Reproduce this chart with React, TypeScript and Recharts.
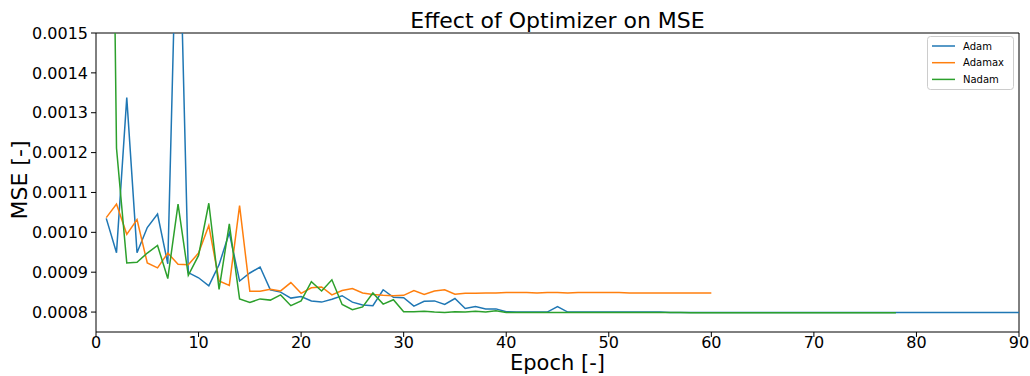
import { Line, LineChart, ReferenceLine, XAxis, YAxis } from "recharts"

// validation MSE per epoch, epochs start at 1
const adam = [
  0.001035, 0.000949, 0.001338, 0.000949, 0.001012, 0.001046, 0.000921, 0.00194, 0.000899, 0.000886,
  0.000866, 0.000919, 0.000999, 0.000878, 0.000898, 0.000913, 0.000856, 0.00085, 0.000835, 0.000839,
  0.000828, 0.000825, 0.000832, 0.000841, 0.000825, 0.000818, 0.000816, 0.000856, 0.000837, 0.000836,
  0.000815, 0.000827, 0.000828, 0.000819, 0.000834, 0.000809, 0.000814, 0.000808, 0.000808, 0.000801,
  0.0008, 0.0008, 0.0008, 0.0008, 0.000814, 0.0008, 0.0008, 0.0008, 0.0008, 0.0008,
  0.0008, 0.0008, 0.0008, 0.0008, 0.0008, 0.000799, 0.000799, 0.000799, 0.000799, 0.000799,
  0.000799, 0.000799, 0.000799, 0.000799, 0.000799, 0.000799, 0.000799, 0.000799, 0.000799, 0.000799,
  0.000799, 0.000799, 0.000799, 0.000799, 0.000799, 0.000799, 0.000799, 0.000799, 0.000799, 0.000799,
  0.000799, 0.000799, 0.000799, 0.000799, 0.000799, 0.000799, 0.000799, 0.000799, 0.000799, 0.000799,
]

const adamax = [
  0.001037, 0.001071, 0.000995, 0.001032, 0.000923, 0.000911, 0.000948, 0.00092, 0.000919, 0.000948,
  0.001017, 0.000878, 0.000867, 0.001067, 0.000852, 0.000852, 0.000857, 0.000853, 0.000874, 0.000847,
  0.000861, 0.000863, 0.000843, 0.000854, 0.000859, 0.000848, 0.000844, 0.000842, 0.000841, 0.000842,
  0.000854, 0.000844, 0.000853, 0.000856, 0.000845, 0.000847, 0.000847, 0.000848, 0.000848, 0.000849,
  0.000849, 0.000849, 0.000848, 0.000849, 0.000849, 0.000848, 0.000849, 0.000849, 0.000849, 0.000849,
  0.000849, 0.000848, 0.000848, 0.000848, 0.000848, 0.000848, 0.000848, 0.000848, 0.000848, 0.000848,
]

const nadam = [
  0.0033, 0.001211, 0.000923, 0.000925, 0.000948, 0.000967, 0.000884, 0.001071, 0.000892, 0.000942,
  0.001073, 0.000857, 0.001021, 0.000833, 0.000824, 0.000833, 0.00083, 0.000843, 0.000816, 0.000828,
  0.000876, 0.000853, 0.000881, 0.000819, 0.000806, 0.000813, 0.000848, 0.00082, 0.000831, 0.000801,
  0.000801, 0.000802, 0.0008, 0.000799, 0.000801, 0.0008, 0.000802, 0.0008, 0.000803, 0.000799,
  0.000799, 0.000799, 0.000799, 0.000799, 0.000799, 0.000799, 0.000799, 0.000799, 0.000799, 0.000799,
  0.000799, 0.000799, 0.000799, 0.000799, 0.000799, 0.000799, 0.000799, 0.000798, 0.000798, 0.000798,
  0.000798, 0.000798, 0.000798, 0.000798, 0.000798, 0.000798, 0.000798, 0.000798, 0.000798, 0.000798,
  0.000798, 0.000798, 0.000798, 0.000798, 0.000798, 0.000798, 0.000798, 0.000798,
]

const xTicks = [0, 10, 20, 30, 40, 50, 60, 70, 80, 90]
const yTicks = [0.0008, 0.0009, 0.001, 0.0011, 0.0012, 0.0013, 0.0014, 0.0015]

const series = [
  { name: "Adam", values: adam, color: "#1f77b4" },
  { name: "Adamax", values: adamax, color: "#ff7f0e" },
  { name: "Nadam", values: nadam, color: "#2ca02c" },
]

const toPoints = (values: number[]) => values.map((mse, i) => ({ epoch: i + 1, mse }))

const font = "'DejaVu Sans', sans-serif"
const tickStyle = { fill: "#000", fontSize: 16, fontFamily: font }

export default function App() {
  return (
    <div style={{ position: "absolute", left: 0, top: 0, width: 1030, height: 376, background: "#fff" }}>
      <LineChart width={1030} height={376} margin={{ top: 33, right: 11, bottom: 0, left: 0 }}>
        <XAxis
          type="number"
          dataKey="epoch"
          domain={[0, 90]}
          ticks={xTicks}
          height={44}
          stroke="#000"
          tickSize={5}
          tickMargin={0}
          tick={tickStyle}
          allowDataOverflow
        />
        <YAxis
          type="number"
          domain={[0.00075, 0.0015]}
          ticks={yTicks}
          width={96}
          stroke="#000"
          tickSize={5}
          tickMargin={3}
          tick={tickStyle}
          tickFormatter={(v: number) => v.toFixed(4)}
          allowDataOverflow
        />
        <ReferenceLine x={90} stroke="#000" />
        <ReferenceLine y={0.0015} stroke="#000" />
        {series.map((s) => (
          <Line
            key={s.name}
            data={toPoints(s.values)}
            dataKey="mse"
            name={s.name}
            type="linear"
            stroke={s.color}
            strokeWidth={1.5}
            dot={false}
            isAnimationActive={false}
          />
        ))}
      </LineChart>

      <svg
        width={1030}
        height={376}
        style={{ position: "absolute", left: 0, top: 0, pointerEvents: "none" }}
        fontFamily={font}
      >
        <text x={557.5} y={28} textAnchor="middle" fontSize={22} fill="#000">
          Effect of Optimizer on MSE
        </text>
        <text x={557.5} y={370} textAnchor="middle" fontSize={21} fill="#000">
          Epoch [-]
        </text>
        <text x={27} y={180} textAnchor="middle" fontSize={22} fill="#000" transform="rotate(-90 27 180)">
          MSE [-]
        </text>

        <rect x={927.5} y={36.5} width={86} height={53} rx={3} fill="#fff" fillOpacity={0.8} stroke="#ccc" />
        {series.map((s, i) => (
          <g key={s.name}>
            <line x1={932} x2={955} y1={46 + i * 16.7} y2={46 + i * 16.7} stroke={s.color} strokeWidth={1.5} />
            <text x={963} y={49.5 + i * 16.7} fontSize={10} fill="#000">
              {s.name}
            </text>
          </g>
        ))}
      </svg>
    </div>
  )
}
